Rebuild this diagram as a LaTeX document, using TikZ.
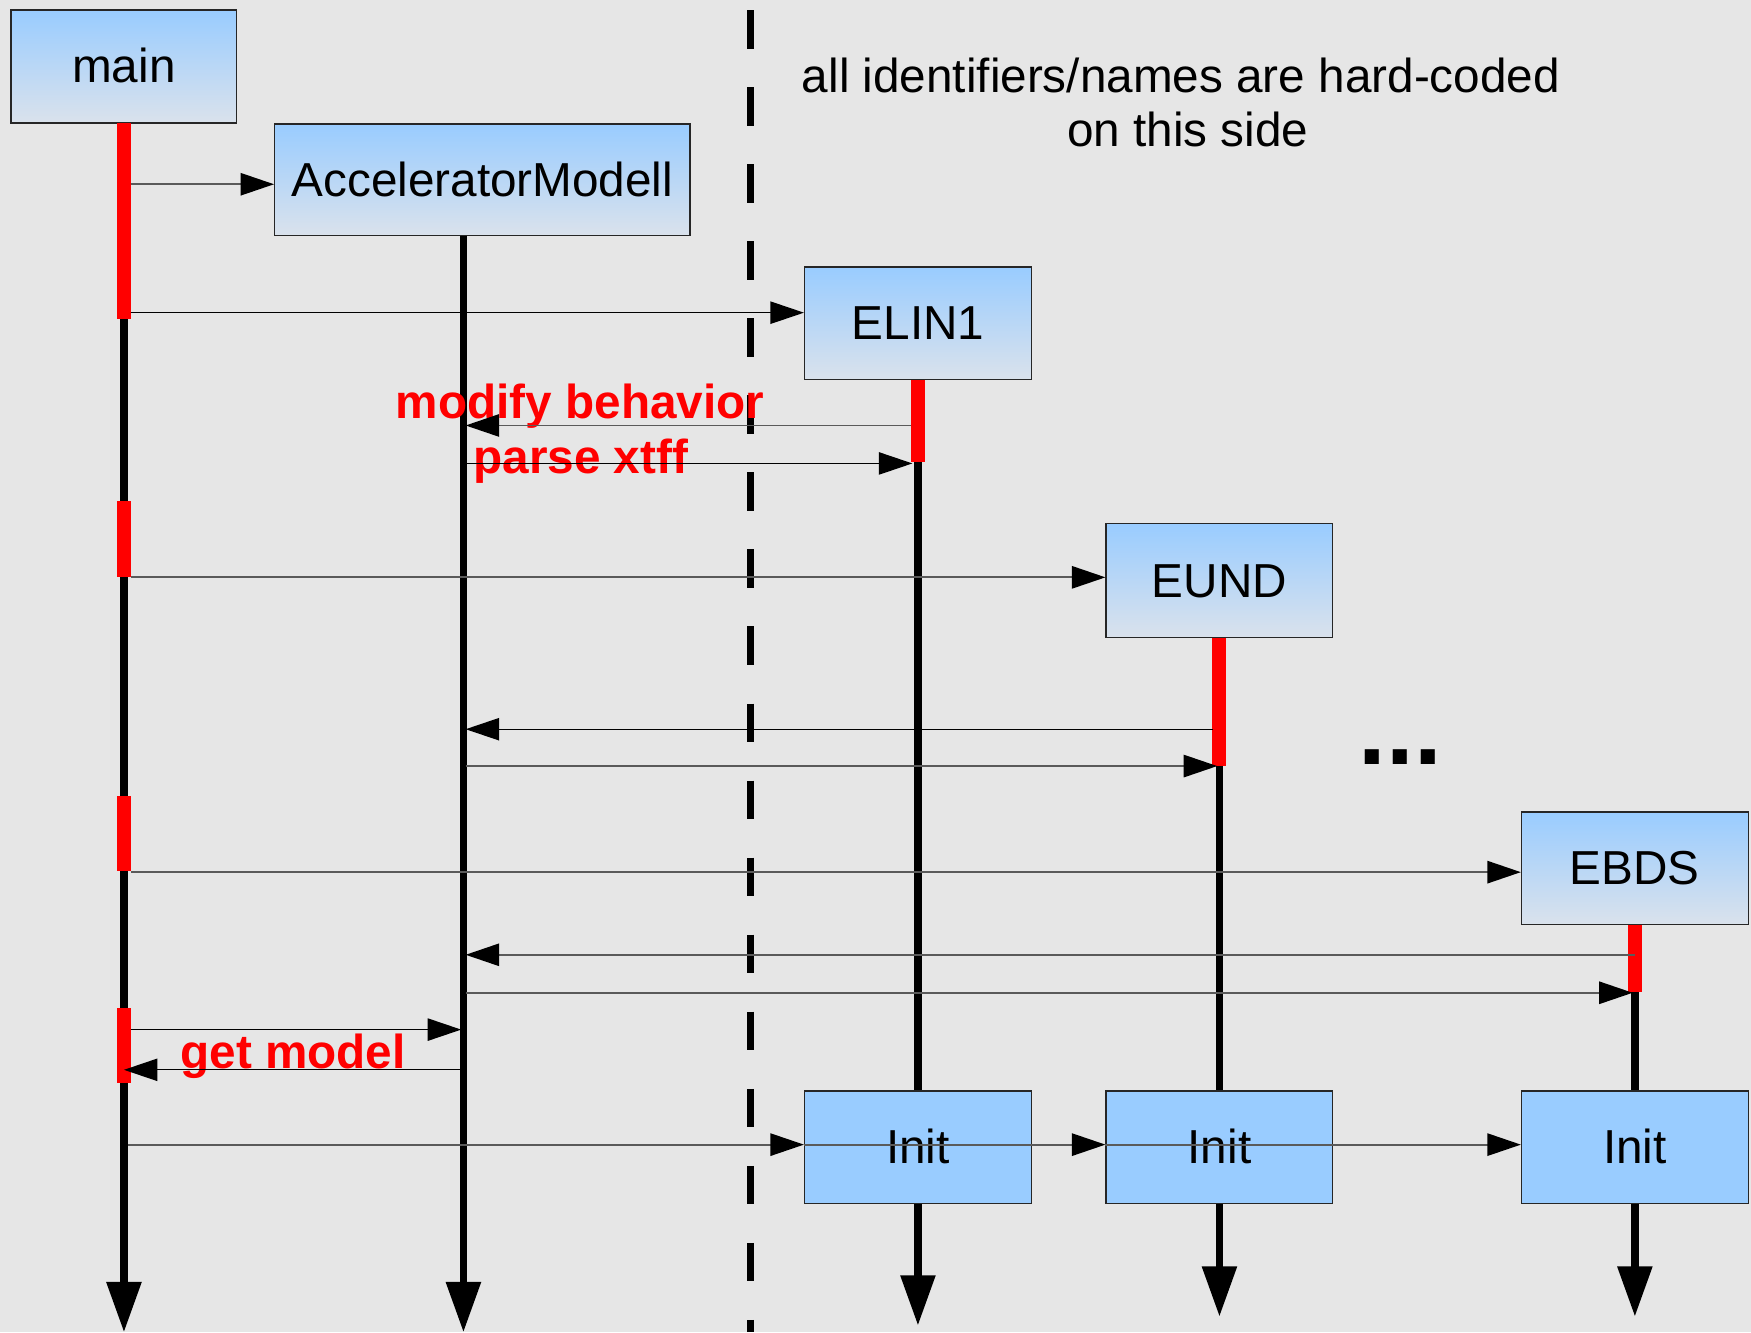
\documentclass[tikz,border=0pt]{standalone}
\usepackage{fontspec}
\setmainfont{Liberation Sans}
\usetikzlibrary{arrows.meta}

\definecolor{canvas}{HTML}{E6E6E6}
\definecolor{boxtop}{HTML}{99CCFF}
\definecolor{boxbot}{HTML}{DAE2EC}
\definecolor{initfill}{HTML}{99CCFF}
\definecolor{msggray}{HTML}{5A5A5A}
\definecolor{actred}{HTML}{FF0000}

\begin{document}
\begin{tikzpicture}[x=1pt,y=-1pt,
  lane/.style={draw=black!85, line width=1.2pt, minimum width=203pt,
    minimum height=101pt, inner sep=0pt,
    font=\fontsize{42.7}{51}\selectfont, text height=38.6pt, text depth=9pt},
  classbox/.style={lane, top color=boxtop, bottom color=boxbot},
  initbox/.style={lane, fill=initfill},
  lifeline/.style={line width=6.5pt, -{Triangle[length=45pt,width=30pt]}},
  lifebar/.style={line width=6.5pt},
  activation/.style={draw=actred, line width=12.5pt},
  msg/.style={draw=msggray, line width=1.6pt, -{Triangle[length=30pt,width=20pt,color=black]}},
  msgk/.style={draw=black, line width=1.2pt, -{Triangle[length=30pt,width=20pt]}},
  notetext/.style={font=\fontsize{42.7}{51}\selectfont, inner sep=0pt, anchor=base},
  callnote/.style={font=\fontsize{42.7}{51}\selectfont\bfseries, text=actred,
    inner sep=0pt, anchor=base}
]
\useasboundingbox (0,0) rectangle (1568,1193);
\fill[canvas] (0,0) rectangle (1568,1193);

% border between the generic part and the hard-coded elements
\draw[line width=6pt, dash pattern=on 34.5pt off 34.5pt] (672,9) -- (672,1193);

% explanatory note
\node[notetext] (note1) at (1057.5,83) {all identifiers/names are hard-coded};
\node[notetext] (note2) at (1063.5,131) {on this side};

% participants
\node[classbox, minimum width=202pt] (main) at (111,59.5) {main};
\node[classbox, minimum width=372pt, minimum height=100pt] (AM) at (432,161) {AcceleratorModell};
\node[classbox] (ELIN1) at (822,289.5) {ELIN1};
\node[classbox, minimum height=102pt] (EUND) at (1092,520) {EUND};
\node[classbox] (EBDS) at (1464,777.5) {EBDS};
\node[initbox] (init1) at (822,1027.5) {Init};
\node[initbox] (init2) at (1092,1027.5) {Init};
\node[initbox] (init3) at (1464,1027.5) {Init};

% ends of the lifelines
\coordinate (mainEnd) at (111,1193);
\coordinate (amTop) at (415,211);
\coordinate (amEnd) at (415,1193);
\coordinate (elinEnd) at (822,1187);
\coordinate (eundEnd) at (1092,1179);
\coordinate (ebdsEnd) at (1464,1179);

% lifelines
\draw[lifeline] (main.south) -- (mainEnd);
\draw[lifeline] (amTop) -- (amEnd);
\draw[lifebar] (ELIN1.south) -- (init1.north);
\draw[lifebar] (EUND.south) -- (init2.north);
\draw[lifebar] (EBDS.south) -- (init3.north);
\draw[lifeline] (init1.south) -- (elinEnd);
\draw[lifeline] (init2.south) -- (eundEnd);
\draw[lifeline] (init3.south) -- (ebdsEnd);

% activation bars
\draw[activation] (111,110) -- (111,286);
\draw[activation] (111,449) -- (111,517);
\draw[activation] (111,713) -- (111,780);
\draw[activation] (111,903) -- (111,970);
\draw[activation] (822,340) -- (822,414);
\draw[activation] (1092,571) -- (1092,686);
\draw[activation] (1464,828) -- (1464,888);

% call labels
\node[callnote] (lblModify) at (519.5,374.5) {modify behavior};
\node[callnote] (lblParse) at (520,424) {parse xtff};
\node[callnote] (lblGet) at (262.5,957) {get model};

% messages
\draw[msg]  (117,165) -- (AM.west |- 0,165);
\draw[msgk] (117,280) -- (ELIN1.west |- 0,280);
\draw[msg]  (816,381) -- (417,381);
\draw[msgk] (417,415) -- (817,415);
\draw[msg]  (117,517) -- (EUND.west |- 0,517);
\draw[msgk] (1086,653) -- (417,653);
\draw[msg]  (417,686) -- (1090,686);
\draw[msg]  (117,781) -- (EBDS.west |- 0,781);
\draw[msg]  (1464,855) -- (417,855);
\draw[msg]  (417,889) -- (1462,889);
\draw[msgk] (117,922) -- (413,922);
\draw[msgk] (413,958) -- (111,958);

% initialisation chain
\draw[msg] (115,1025) -- (init1.west |- 0,1025);
\draw[msg] (init1.west |- 0,1025) -- (init2.west |- 0,1025);
\draw[msg] (init2.west |- 0,1025) -- (init3.west |- 0,1025);

% further elements
\node[font=\fontsize{89}{100}\selectfont\bfseries, inner sep=0pt, anchor=base] (more) at (1254,685) {...};
\end{tikzpicture}
\end{document}
